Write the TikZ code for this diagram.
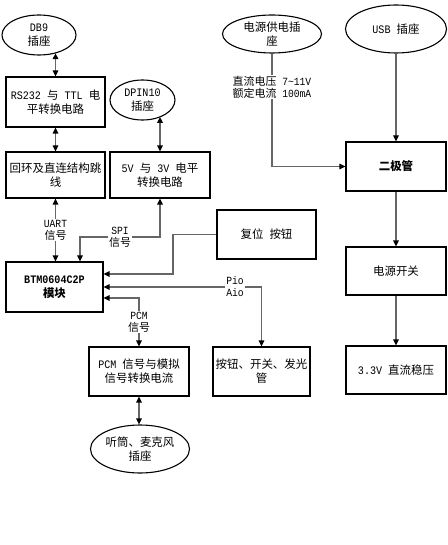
\documentclass[tikz,border=0pt]{standalone}
\usepackage{fontspec}
\setmainfont{Noto Sans CJK SC}
\newfontfamily\lat[FakeStretch=0.88]{Liberation Mono}
\usetikzlibrary{shapes.geometric,arrows.meta}

\tikzset{
  >={Triangle[length=6bp,width=5.5bp,color=black]},
  box/.style={rectangle, draw, line width=1.1bp, inner sep=0pt,
      minimum width=99bp, minimum height=48bp, align=center,
      font=\fontsize{11.5}{14}\selectfont},
  plug/.style={ellipse, draw, line width=1.1bp, inner sep=0pt, align=center,
      font=\fontsize{11.5}{14}\selectfont},
  link/.style={draw=black!60, line width=1.6bp},
  tag/.style={fill=white, inner sep=1bp, align=center,
      font=\fontsize{11}{12}\selectfont},
}

\begin{document}
\begin{tikzpicture}[x=1bp, y=-1bp]
\useasboundingbox (0,0) rectangle (448,545);

% plugs
\node[plug, minimum width=74bp, minimum height=40bp] (db9) at (39,35) {{\lat DB9}\\插座};
\node[plug, minimum width=65bp, minimum height=40bp] (dpin) at (142.5,100) {{\lat DPIN10}\\插座};
\node[plug, minimum width=99bp, minimum height=38bp] (pwr) at (272,34) {电源供电插\\座};
\node[plug, minimum width=101bp, minimum height=48bp] (usb) at (396,29) {{\lat USB }插座};
\node[plug, minimum width=99bp, minimum height=48bp] (mic) at (140,449) {听筒、麦克风\\插座};

% left column
\node[box, minimum height=50bp] (rs) at (55.5,102) {{\lat RS232 }与{\lat \ TTL }电\\平转换电路};
\node[box, minimum height=46bp] (loop) at (55.5,175) {回环及直连结构跳\\线};
\node[box, minimum width=100bp, minimum height=46bp] (lvl) at (160,175) {{\lat 5V }与{\lat \ 3V }电平\\转换电路};
\node[box, minimum width=97bp, minimum height=50bp] (btm) at (54.5,287) {\bfseries{\lat BTM0604C2P}\\\bfseries 模块};
\node[box, minimum height=49bp] (rst) at (266.5,234.5) {复位{\lat \ }按钮};
\node[box, minimum width=100bp, minimum height=49bp] (pcm) at (139,371.5) {{\lat PCM }信号与模拟\\信号转换电流};
\node[box, minimum width=97bp, minimum height=49bp] (keys) at (261.5,371.5) {按钮、开关、发光\\管};

% power column
\node[box, minimum width=100bp, minimum height=49bp] (diode) at (396,166.5) {\bfseries 二极管};
\node[box, minimum width=100bp] (sw) at (396,271) {电源开关};
\node[box, minimum width=100bp] (reg) at (396,370) {{\lat 3.3V }直流稳压};

% serial path
\draw[link,<->] (rs.north |- db9.-46) -- (rs.north);
\draw[link,<->] (rs.south) -- (loop.north);
\draw[link,<->] (lvl.north |- dpin.-42) -- (lvl.north);
\draw[link,<->] (loop.south) -- (loop.south |- btm.north)
  node[tag, midway] {{\lat UART}\\信号};

% spi
\coordinate (spibend) at (80,237);
\draw[link,<->] (lvl.south) |- (spibend) -- (spibend |- btm.north);
\node[tag] (spi) at (120,237) {{\lat SPI}\\信号};

% reset, pio, pcm
\coordinate (rstbend) at (173,274);
\draw[link,->] (rst.west) -| (rstbend) -- (rstbend -| btm.east);
\draw[link,<->] (btm.east) -| (keys.north);
\node[tag] (pio) at (235,287) {{\lat Pio}\\{\lat Aio}};
\draw[link,<->] ([yshift=-11bp]btm.east) -| (pcm.north)
  node[tag, pos=0.75] {{\lat PCM}\\信号};
\draw[link,<->] (pcm.south) -- (pcm.south |- mic.north);

% power supply
\draw[link,->] (pwr.south) |- (diode.west);
\node[tag] (dc) at (272,87) {直流电压{\lat \ 7\textasciitilde 11V}\\额定电流{\lat \ 100mA}};
\draw[link,->] (usb.south) -- (diode.north);
\draw[link,->] (diode.south) -- (sw.north);
\draw[link,->] (sw.south) -- (reg.north);
\end{tikzpicture}
\end{document}
